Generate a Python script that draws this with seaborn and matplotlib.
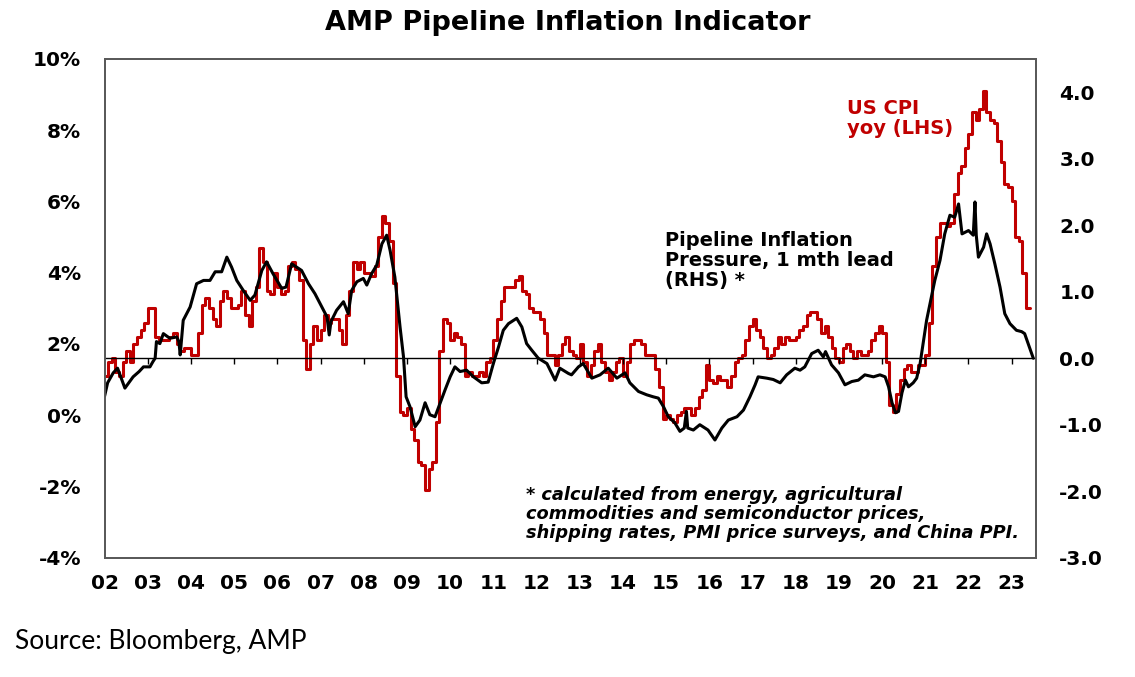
import numpy as np
import pandas as pd
import matplotlib
matplotlib.use("Agg")
import matplotlib.pyplot as plt
import seaborn as sns

# ---------------- data ----------------
cpi_start_year = 2002
cpi_yoy = [
    1.1, 1.1, 1.5, 1.6, 1.2, 1.1, 1.5, 1.8, 1.5, 2.0, 2.2, 2.4,   # 2002
    2.6, 3.0, 3.0, 2.2, 2.1, 2.1, 2.1, 2.2, 2.3, 2.0, 1.8, 1.9,   # 2003
    1.9, 1.7, 1.7, 2.3, 3.1, 3.3, 3.0, 2.7, 2.5, 3.2, 3.5, 3.3,   # 2004
    3.0, 3.0, 3.1, 3.5, 2.8, 2.5, 3.2, 3.6, 4.7, 4.3, 3.5, 3.4,   # 2005
    4.0, 3.6, 3.4, 3.5, 4.2, 4.3, 4.1, 3.8, 2.1, 1.3, 2.0, 2.5,   # 2006
    2.1, 2.4, 2.8, 2.6, 2.7, 2.7, 2.4, 2.0, 2.8, 3.5, 4.3, 4.1,   # 2007
    4.3, 4.0, 4.0, 3.9, 4.2, 5.0, 5.6, 5.4, 4.9, 3.7, 1.1, 0.1,   # 2008
    0.0, 0.2, -0.4, -0.7, -1.3, -1.4, -2.1, -1.5, -1.3, -0.2, 1.8, 2.7,  # 2009
    2.6, 2.1, 2.3, 2.2, 2.0, 1.1, 1.2, 1.1, 1.1, 1.2, 1.1, 1.5,   # 2010
    1.6, 2.1, 2.7, 3.2, 3.6, 3.6, 3.6, 3.8, 3.9, 3.5, 3.4, 3.0,   # 2011
    2.9, 2.9, 2.7, 2.3, 1.7, 1.7, 1.4, 1.7, 2.0, 2.2, 1.8, 1.7,   # 2012
    1.6, 2.0, 1.5, 1.1, 1.4, 1.8, 2.0, 1.5, 1.2, 1.0, 1.2, 1.5,   # 2013
    1.6, 1.1, 1.5, 2.0, 2.1, 2.1, 2.0, 1.7, 1.7, 1.7, 1.3, 0.8,   # 2014
    -0.1, 0.0, -0.1, -0.2, 0.0, 0.1, 0.2, 0.2, 0.0, 0.2, 0.5, 0.7,  # 2015
    1.4, 1.0, 0.9, 1.1, 1.0, 1.0, 0.8, 1.1, 1.5, 1.6, 1.7, 2.1,   # 2016
    2.5, 2.7, 2.4, 2.2, 1.9, 1.6, 1.7, 1.9, 2.2, 2.0, 2.2, 2.1,   # 2017
    2.1, 2.2, 2.4, 2.5, 2.8, 2.9, 2.9, 2.7, 2.3, 2.5, 2.2, 1.9,   # 2018
    1.6, 1.5, 1.9, 2.0, 1.8, 1.6, 1.8, 1.7, 1.7, 1.8, 2.1, 2.3,   # 2019
    2.5, 2.3, 1.5, 0.3, 0.1, 0.6, 1.0, 1.3, 1.4, 1.2, 1.2, 1.4,   # 2020
    1.4, 1.7, 2.6, 4.2, 5.0, 5.4, 5.4, 5.3, 5.4, 6.2, 6.8, 7.0,   # 2021
    7.5, 7.9, 8.5, 8.3, 8.6, 9.1, 8.5, 8.3, 8.2, 7.7, 7.1, 6.5,   # 2022
    6.4, 6.0, 5.0, 4.9, 4.0, 3.0,                                 # 2023
]

pipe_t = [
    2002.00, 2002.07, 2002.20, 2002.30, 2002.47, 2002.66, 2002.80, 2002.90,
    2003.05, 2003.12, 2003.17, 2003.20, 2003.28, 2003.36, 2003.51, 2003.67,
    2003.72, 2003.75, 2003.82, 2003.98, 2004.13, 2004.29, 2004.44, 2004.56,
    2004.71, 2004.83, 2004.94, 2005.06, 2005.21, 2005.37, 2005.48, 2005.64,
    2005.75, 2005.90, 2006.10, 2006.20, 2006.33, 2006.56, 2006.72, 2006.87,
    2007.03, 2007.15, 2007.20, 2007.24, 2007.37, 2007.53, 2007.64, 2007.72,
    2007.84, 2007.99, 2008.07, 2008.18, 2008.30, 2008.42, 2008.53, 2008.61,
    2008.72, 2008.84, 2008.92, 2008.98, 2009.07, 2009.19, 2009.30, 2009.42,
    2009.53, 2009.65, 2009.77, 2009.88, 2010.00, 2010.11, 2010.23, 2010.38,
    2010.54, 2010.73, 2010.88, 2011.00, 2011.12, 2011.23, 2011.35, 2011.54,
    2011.66, 2011.77, 2011.89, 2012.04, 2012.24, 2012.43, 2012.54, 2012.74,
    2012.81, 2012.97, 2013.08, 2013.28, 2013.47, 2013.66, 2013.86, 2014.05,
    2014.16, 2014.36, 2014.55, 2014.70, 2014.82, 2014.94, 2015.05, 2015.20,
    2015.32, 2015.42, 2015.47, 2015.50, 2015.63, 2015.78, 2015.97, 2016.13,
    2016.29, 2016.44, 2016.64, 2016.79, 2016.94, 2017.06, 2017.13, 2017.33,
    2017.48, 2017.64, 2017.79, 2017.98, 2018.10, 2018.21, 2018.37, 2018.52,
    2018.64, 2018.69, 2018.83, 2018.99, 2019.14, 2019.30, 2019.45, 2019.60,
    2019.80, 2019.95, 2020.07, 2020.15, 2020.23, 2020.31, 2020.38, 2020.46,
    2020.54, 2020.61, 2020.72, 2020.80, 2020.88, 2020.96, 2021.03, 2021.11,
    2021.22, 2021.34, 2021.45, 2021.57, 2021.68, 2021.77, 2021.85, 2022.00,
    2022.11, 2022.15, 2022.18, 2022.23, 2022.35, 2022.42, 2022.50, 2022.61,
    2022.73, 2022.84, 2022.96, 2023.11, 2023.23, 2023.30, 2023.38, 2023.50,
]
pipe_v = [
    -0.57, -0.37, -0.22, -0.15, -0.45, -0.28, -0.20, -0.13,
    -0.13, -0.05, 0.00, 0.25, 0.22, 0.37, 0.30, 0.32,
    0.25, 0.05, 0.57, 0.77, 1.12, 1.17, 1.17, 1.30,
    1.30, 1.52, 1.37, 1.17, 1.02, 0.87, 0.95, 1.32,
    1.45, 1.27, 1.05, 1.07, 1.42, 1.32, 1.12, 0.97,
    0.77, 0.62, 0.35, 0.55, 0.72, 0.85, 0.67, 1.02,
    1.15, 1.20, 1.10, 1.27, 1.40, 1.72, 1.85, 1.62,
    1.22, 0.47, 0.02, -0.58, -0.73, -1.03, -0.93, -0.67,
    -0.85, -0.88, -0.67, -0.48, -0.28, -0.13, -0.20, -0.18,
    -0.28, -0.37, -0.36, -0.08, 0.17, 0.42, 0.52, 0.60,
    0.47, 0.22, 0.12, 0.00, -0.08, -0.33, -0.15, -0.23,
    -0.25, -0.13, -0.08, -0.30, -0.25, -0.15, -0.30, -0.22,
    -0.37, -0.50, -0.55, -0.58, -0.60, -0.73, -0.88, -0.97,
    -1.10, -1.05, -0.80, -1.05, -1.08, -1.00, -1.08, -1.23,
    -1.05, -0.93, -0.88, -0.78, -0.58, -0.40, -0.28, -0.30,
    -0.32, -0.37, -0.25, -0.15, -0.18, -0.13, 0.07, 0.12,
    0.02, 0.10, -0.10, -0.22, -0.40, -0.35, -0.33, -0.25,
    -0.28, -0.25, -0.28, -0.43, -0.67, -0.82, -0.80, -0.52,
    -0.33, -0.43, -0.37, -0.30, -0.08, 0.27, 0.57, 0.82,
    1.17, 1.47, 1.87, 2.15, 2.12, 2.32, 1.87, 1.92,
    1.85, 2.35, 1.85, 1.52, 1.67, 1.87, 1.72, 1.42,
    1.07, 0.67, 0.52, 0.42, 0.40, 0.37, 0.22, 0.00,
]

year_ticks = list(range(2002, 2024))
year_labels = [f"{y % 100:02d}" for y in year_ticks]
lhs_ticks = [-4, -2, 0, 2, 4, 6, 8, 10]
lhs_labels = [f"{v}%" for v in lhs_ticks]
rhs_ticks = [-3, -2, -1, 0, 1, 2, 3, 4]
rhs_labels = [f"{v:.1f}" for v in rhs_ticks]

title = "AMP Pipeline Inflation Indicator"
cpi_label = "US CPI\nyoy (LHS)"
pipe_label = "Pipeline Inflation\nPressure, 1 mth lead\n(RHS) *"
footnote = ("* calculated from energy, agricultural\n"
            "commodities and semiconductor prices,\n"
            "shipping rates, PMI price surveys, and China PPI.")
source = "Source: Bloomberg, AMP"

# ---------------- frames ----------------
cpi_df = pd.DataFrame({
    "t": [cpi_start_year + i / 12 for i in range(len(cpi_yoy))],
    "v": cpi_yoy,
})
pipe_df = pd.DataFrame({"t": pipe_t, "v": pipe_v})

# ---------------- plotting ----------------
sns.set_style("white")
plt.rcParams["font.family"] = ["DejaVu Sans"]
for k in ("text.color", "axes.labelcolor", "xtick.color", "ytick.color"):
    plt.rcParams[k] = "black"

W, H = 1135, 677
fig = plt.figure(figsize=(W / 100, H / 100), dpi=100)
ax = fig.add_axes([104.6 / W, 1 - 557.7 / H, (1035.7 - 104.6) / W, (557.7 - 59) / H])

RED = "#C00000"
sns.lineplot(data=cpi_df, x="t", y="v", ax=ax, color=RED, linewidth=2.2,
             drawstyle="steps-pre", estimator=None, sort=True)

ax2 = ax.twinx()
sns.lineplot(data=pipe_df, x="t", y="v", ax=ax2, color="black", linewidth=2.2,
             estimator=None, sort=True)

# zero line of RHS with year ticks
ax2.axhline(0, color="black", linewidth=1.0, zorder=1)
ax2.vlines(year_ticks[1:], -0.085, 0, color="black", linewidth=1.0)

xmin, xmax = 2002.0, 2023.556
ax.set_xlim(xmin, xmax)
ax.set_ylim(-4, 10)
ax2.set_ylim(-3, 4.5)

TICK_FS = 14.5
ax.set_xticks(year_ticks)
ax.set_xticklabels(year_labels, fontsize=TICK_FS, fontweight="bold")
ax.set_yticks(lhs_ticks)
ax.set_yticklabels(lhs_labels, fontsize=TICK_FS, fontweight="bold")
ax2.set_yticks(rhs_ticks)
ax2.set_yticklabels(rhs_labels, fontsize=TICK_FS, fontweight="bold")

ax.tick_params(axis="x", length=0, pad=12)
ax.tick_params(axis="y", length=0, pad=17)
ax2.tick_params(axis="y", length=0, pad=17)

for a in (ax, ax2):
    a.set_xlabel("")
    a.set_ylabel("")
    for s in a.spines.values():
        s.set_color("#595959")
        s.set_linewidth(1.3)

# ---------------- text ----------------
fig.text(0.5, 1 - 23 / H, title, ha="center", va="center",
         fontsize=19.5, fontweight="bold")

ax.text(847 / W, 1 - 99 / H, cpi_label, transform=fig.transFigure,
        color=RED, fontsize=14, fontweight="bold", ha="left", va="top",
        linespacing=1.05)
ax.text(665 / W, 1 - 231 / H, pipe_label, transform=fig.transFigure,
        color="black", fontsize=14, fontweight="bold", ha="left", va="top",
        linespacing=1.07)
ax.text(526 / W, 1 - 486 / H, footnote, transform=fig.transFigure,
        color="black", fontsize=12.8, fontweight="bold", fontstyle="italic",
        ha="left", va="top", linespacing=1.07)

fig.text(15 / W, 1 - 642 / H, source, ha="left", va="center",
         fontsize=19, family=["Lato", "DejaVu Sans"])

fig.savefig("out.png", dpi=100, facecolor="white")
